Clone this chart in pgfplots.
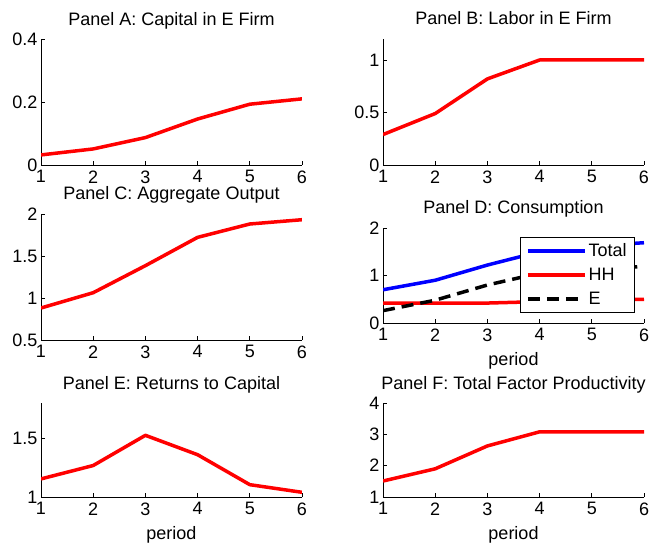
\documentclass[border=0pt]{standalone}
\usepackage{pgfplots}
\pgfplotsset{compat=1.18}
\usepackage{fontspec}
\setmainfont{Liberation Sans}

\newcommand{\tickfont}{\fontsize{18}{18}\selectfont}
\newcommand{\titlefont}{\fontsize{18}{18}\selectfont}

\pgfplotsset{
  panel/.style={
    scale only axis, width=261pt, height=126pt,
    anchor=south west,
    xmin=1, xmax=6, xtick={1,2,3,4,5,6},
    axis x line*=bottom, axis y line*=left,
    axis line style={black, line width=0.7pt, -},
    tick style={black, line width=0.7pt},
    major tick length=4pt,
    tick align=inside,
    ticklabel style={font=\tickfont},
    x tick label style={yshift=-2pt},
    /pgf/number format/assume math mode=true,
    every axis title shift=0pt,
    title style={font=\titlefont, at={(axis description cs:0.5,1)}, anchor=base, yshift=14pt},
    xlabel style={font=\tickfont, at={(axis description cs:0.5,0)}, anchor=base, yshift=-42pt},
    every axis plot/.append style={line width=3.5pt, line join=round},
  },
}

\begin{document}
\begin{tikzpicture}[x=1pt, y=1pt]
\path[use as bounding box] (0,0) rectangle (660,544);

% Panel A
\begin{axis}[panel, at={(41pt,379pt)}, ymin=0, ymax=0.4, ytick={0,0.2,0.4},
  title={Panel A: Capital in E Firm}]
\addplot[red] coordinates {(1,0.032) (2,0.051) (3,0.087) (4,0.146) (5,0.193) (6,0.210)};
\end{axis}

% Panel B
\begin{axis}[panel, at={(383pt,379pt)}, ymin=0, ymax=1.2, ytick={0,0.5,1},
  title={Panel B: Labor in E Firm}]
\addplot[red] coordinates {(1,0.29) (2,0.49) (3,0.82) (4,1) (5,1) (6,1)};
\end{axis}

% Panel C
\begin{axis}[panel, at={(41pt,204pt)}, ymin=0.5, ymax=2, ytick={0.5,1,1.5,2},
  title={Panel C: Aggregate Output}]
\addplot[red] coordinates {(1,0.881) (2,1.063) (3,1.385) (4,1.722) (5,1.881) (6,1.932)};
\end{axis}

% Panel D
\begin{axis}[panel, at={(383pt,221pt)}, height=95pt, ymin=0, ymax=2, ytick={0,1,2},
  title={Panel D: Consumption}, xlabel={period},
  legend cell align=left,
  legend image code/.code={\draw[#1] (0pt,0pt) -- (57pt,0pt);},
  legend style={at={(0.966,0.902)}, anchor=north east, draw=black, line width=0.8pt,
    font=\tickfont, inner xsep=6pt, inner ysep=4pt, row sep=6pt}]
\addplot[blue] coordinates {(1,0.70) (2,0.90) (3,1.22) (4,1.50) (5,1.62) (6,1.69)};
\addlegendentry{Total}
\addplot[red] coordinates {(1,0.42) (2,0.42) (3,0.42) (4,0.45) (5,0.48) (6,0.50)};
\addlegendentry{HH}
\addplot[black, dash pattern=on 12pt off 7pt] coordinates {(1,0.26) (2,0.48) (3,0.80) (4,1.05) (5,1.14) (6,1.19)};
\addlegendentry{E}
\end{axis}

% Panel E
\begin{axis}[panel, at={(41pt,47pt)}, height=94pt, ymin=1, ymax=1.8, ytick={1,1.5},
  title={Panel E: Returns to Capital}, xlabel={period}]
\addplot[red] coordinates {(1,1.154) (2,1.268) (3,1.525) (4,1.36) (5,1.105) (6,1.04)};
\end{axis}

% Panel F
\begin{axis}[panel, at={(383pt,47pt)}, height=94pt, ymin=1, ymax=4, ytick={1,2,3,4},
  title={Panel F: Total Factor Productivity}, xlabel={period}]
\addplot[red] coordinates {(1,1.51) (2,1.90) (3,2.63) (4,3.08) (5,3.08) (6,3.08)};
\end{axis}
\end{tikzpicture}
\end{document}
